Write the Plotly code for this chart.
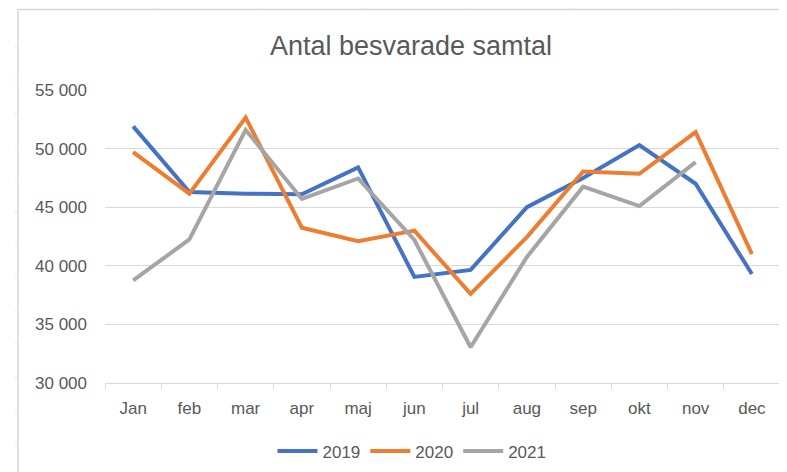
import plotly.graph_objects as go

# ---- data ----
months = ["Jan", "feb", "mar", "apr", "maj", "jun", "jul", "aug", "sep", "okt", "nov", "dec"]
v2019 = [51900, 46300, 46150, 46100, 48400, 39050, 39650, 45000, 47500, 50300, 47000, 39300]
v2020 = [49700, 46150, 52650, 43250, 42100, 43000, 37600, 42450, 48050, 47850, 51400, 41000]
v2021 = [38750, 42250, 51600, 45700, 47450, 42200, 33050, 40750, 46750, 45100, 48850, None]
series_names = ["2019", "2020", "2021"]
series_colors = ["#4472C4", "#ED7D31", "#A5A5A5"]
title_text = "Antal besvarade samtal"

# The page body has an 8px default margin, so the figure is laid out
# in reference pixels minus that offset.
OFF = 8
W, H = 787 - OFF, 472 - OFF
PLOT_L, PLOT_R, PLOT_T, PLOT_B = 105, 780, 90, 382.7   # reference pixels
ML = PLOT_L - OFF
MR = W - (PLOT_R - OFF)
MT = PLOT_T - OFF
MB = H - (PLOT_B - OFF)
PW = W - ML - MR
PH = H - MT - MB

def px_x(px):
    return (px - OFF - ML) / PW

def px_y(py):
    return (H - MB - (py - OFF)) / PH

FONT = "Liberation Sans, Arial, sans-serif"
TXT = "#595959"
GRID = "#D9D9D9"

fig = go.Figure()
for name, vals, col in zip(series_names, [v2019, v2020, v2021], series_colors):
    fig.add_trace(go.Scatter(
        x=months, y=vals, name=name, mode="lines",
        line=dict(color=col, width=4),
        connectgaps=False,
    ))

# decorative frame from the spreadsheet screenshot
shapes = []
frame_col = "#D6D6D6"
shapes.append(dict(type="line", xref="paper", yref="paper",
                   x0=px_x(18), x1=px_x(800), y0=px_y(9.5), y1=px_y(9.5),
                   line=dict(color=frame_col, width=1.5)))
shapes.append(dict(type="line", xref="paper", yref="paper",
                   x0=px_x(18), x1=px_x(18), y0=px_y(9.5), y1=px_y(480),
                   line=dict(color=frame_col, width=1.5)))
for tx in [154, 259, 364, 469, 574, 679, 784]:
    shapes.append(dict(type="line", xref="paper", yref="paper",
                       x0=px_x(tx), x1=px_x(tx), y0=px_y(7), y1=px_y(9.5),
                       line=dict(color="#E3E3E3", width=1)))
for ty in [47, 80, 113, 147, 178, 212, 243, 277, 310, 343, 377, 410, 443]:
    shapes.append(dict(type="line", xref="paper", yref="paper",
                       x0=px_x(15), x1=px_x(18), y0=px_y(ty), y1=px_y(ty),
                       line=dict(color="#E3E3E3", width=1)))

fig.update_layout(
    width=W, height=H,
    margin=dict(l=ML, r=MR, t=MT, b=MB, autoexpand=False),
    paper_bgcolor="white", plot_bgcolor="white",
    separators=", ",
    font=dict(family=FONT, color=TXT, size=17),
    title=dict(text=title_text, x=(411 - OFF) / W, xanchor="center",
               y=1 - (46 - OFF) / H, yanchor="middle", yref="container",
               font=dict(family=FONT, size=27, color=TXT)),
    showlegend=True,
    legend=dict(orientation="h", x=px_x(412), xanchor="center",
                y=px_y(451), yanchor="middle",
                font=dict(family=FONT, size=17, color=TXT),
                itemwidth=40, tracegroupgap=0),
    shapes=shapes,
    xaxis=dict(type="category", range=[-0.5, 11.5], showgrid=False,
               showline=True, linecolor=GRID, linewidth=1,
               ticks="outside", tickson="boundaries", ticklen=5,
               tickcolor=GRID, tickwidth=1,
               tickfont=dict(family=FONT, size=17, color=TXT),
               ticklabelstandoff=10, fixedrange=True),
    yaxis=dict(range=[30000, 55000], dtick=5000, tick0=30000,
               tickformat=",d", showgrid=True, gridcolor=GRID, gridwidth=1,
               zeroline=False, showline=False, ticks="",
               tickfont=dict(family=FONT, size=17, color=TXT),
               ticklabelstandoff=17, fixedrange=True),
)

fig.write_html("out.html")
